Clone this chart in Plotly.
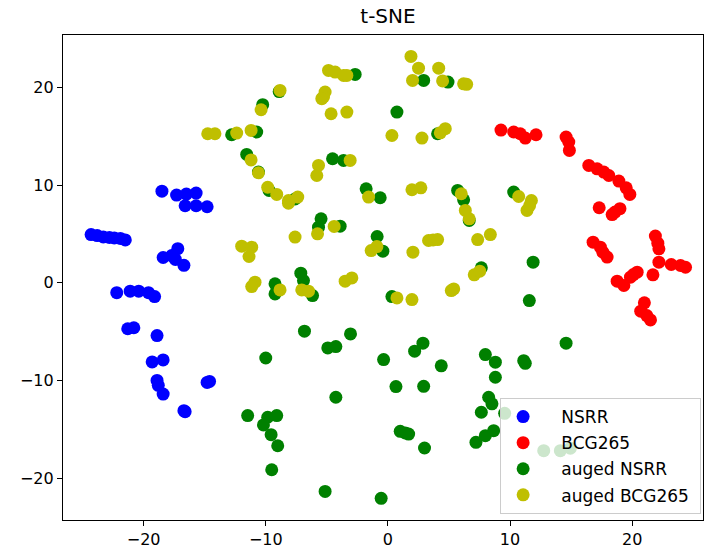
import plotly.graph_objects as go

# ---- data ----
nsrr_x = [-18.5, -17.3, -16.5, -15.7, -16.6, -15.7, -14.8,
          -24.3, -23.8, -23.3, -22.8, -22.4, -21.9, -21.5,
          -17.2, -18.4, -17.4, -16.7, -17.7,
          -22.2, -21.1, -20.4, -19.6, -19.1,
          -21.3, -20.8, -18.9,
          -19.3, -18.4, -18.9, -18.8, -18.4, -14.8, -14.6, -16.7, -16.6]
nsrr_y = [9.4, 9.0, 9.1, 9.2, 7.9, 7.9, 7.8,
          4.95, 4.85, 4.7, 4.65, 4.6, 4.55, 4.4,
          3.5, 2.6, 2.4, 1.8, 2.8,
          -1.0, -0.85, -0.85, -1.0, -1.4,
          -4.7, -4.6, -5.4,
          -8.1, -7.9, -10.0, -10.5, -11.4, -10.2, -10.1, -13.1, -13.2]

bcg_x = [9.26, 10.3, 10.84, 11.25, 12.13, 14.59, 14.81, 14.86,
         16.45, 17.13, 17.68, 18.09, 18.91, 19.51, 19.81,
         17.3, 18.36, 19.0, 18.6,
         16.8, 17.4, 17.95, 17.6,
         21.9, 22.1, 22.19, 22.19, 21.7,
         23.2, 23.96, 24.37,
         18.77, 19.32, 19.86, 20.41, 20.1,
         21.0, 20.7, 21.2, 21.5]
bcg_y = [15.66, 15.46, 15.28, 14.84, 15.18, 14.94, 14.43, 13.57,
         12.03, 11.69, 11.35, 11.0, 10.43, 9.74, 9.06,
         7.7, 7.0, 7.6, 7.25,
         4.17, 3.66, 2.64, 3.15,
         4.8, 4.07, 3.49, 2.12, 0.82,
         1.88, 1.78, 1.6,
         0.17, -0.27, 0.58, 1.1, 0.85,
         -2.05, -2.9, -3.35, -3.8]

aug_nsrr_x = [-10.25, -12.79, -10.74, -11.56, -10.6, -9.73, -8.9,
              2.93, 4.92, -2.68, 0.74, 4.07, -4.53, -3.63, -1.78, -0.63,
              5.71, 6.2, 10.3, -7.6, 6.66, -5.47, -5.68, -3.91, -0.88, -0.41,
              7.65, 0.33, -7.13, -6.91, -6.17, -9.24, -9.24,
              -6.83, -4.92, -4.26, -3.06, -0.35, 2.19, 2.87, 4.37, 7.98,
              11.89, 11.58, 14.59, 8.8, 11.12, 11.25, -10.0,
              -11.48, -9.84, -9.1, -10.19, -9.56, -9.02, -9.51,
              0.66, 2.93, -4.26, 1.01, 1.42, 1.7, 3.0, -5.14, -0.55,
              8.8, 8.25, 8.52, 7.65, 7.21, 7.98, 8.66, 9.56,
              12.76, 14.12, 14.94]
aug_nsrr_y = [18.26, 15.18, 15.46, 13.16, 11.35, 9.47, 19.6,
              20.75, 20.58, 21.36, 17.5, 15.28, 12.72, 12.55, 9.64, 8.72,
              9.47, 8.51, 9.3, 8.6, 6.4, 6.56, 5.71, 5.81, 4.75, 3.25,
              1.54, -1.4, 0.99, 0.24, -1.3, -0.1, -1.13,
              -4.95, -6.67, -6.53, -5.23, -7.86, -7.0, -6.18, -8.5, -7.35,
              2.12, -1.81, -6.18, -8.13, -7.97, -8.24, -7.7,
              -13.6, -13.77, -13.6, -14.56, -15.56, -16.69, -19.15,
              -10.63, -10.6, -11.72, -15.21, -15.38, -15.49, -16.92, -21.37, -22.08,
              -9.67, -11.72, -12.4, -13.26, -16.34, -15.66, -15.15, -13.37,
              -17.2, -17.2, -16.95]

aug_bcg_x = [-8.83, -10.38, -14.75, -14.16, -12.38, -11.2, -11.2, -10.6, -9.84, -9.1,
             1.89, 2.51, 4.16, 2.02, 4.48, 6.2, 6.45,
             -4.86, -4.32, -3.63, -3.36, -5.14, -5.27, -5.41, -4.65, -3.36,
             0.33, 2.79, 4.29, 4.7, -3.09, -5.68, -5.82,
             -8.14, -7.38, -1.58, 1.97, 2.7, 6.01, 10.71, 11.75, 11.39, 11.6,
             -11.97, -11.15, -11.37, -10.88, -11.15, -8.83, -8.14,
             6.34, 6.66, -5.76, -4.4, -7.6, -0.9, -1.37, 2.05,
             3.33, 3.7, 4.07, 7.35, 8.39, 7.07, 7.52,
             -3.5, -2.95, 5.39, 5.19, 0.74, 1.97, -7.05, -6.5]
aug_bcg_y = [19.72, 17.74, 15.28, 15.28, 15.35, 15.62, 12.6, 11.28, 9.8, 9.06,
             23.2, 22.0, 22.0, 20.75, 20.69, 20.4, 20.35,
             21.77, 21.6, 21.26, 21.26, 19.56, 19.05, 18.87, 17.33, 17.5,
             15.1, 14.84, 15.38, 15.8, 12.55, 12.03, 11.0,
             8.44, 8.79, 8.79, 9.54, 9.74, 9.13, 8.85, 8.44, 7.42, 7.9,
             3.76, 3.66, 2.7, 0.07, -0.38, -0.72, 8.17,
             7.42, 6.56, 5.03, 5.78, 4.69, 3.72, 3.31, 3.15,
             4.34, 4.4, 4.44, 4.44, 4.95, 0.82, 1.2,
             0.17, 0.51, -0.62, -0.79, -1.54, -1.71, -0.72, -0.85]

series = [
    ("NSRR", nsrr_x, nsrr_y, "#0000ff"),
    ("BCG265", bcg_x, bcg_y, "#ff0000"),
    ("auged NSRR", aug_nsrr_x, aug_nsrr_y, "#008000"),
    ("auged BCG265", aug_bcg_x, aug_bcg_y, "#bfbf00"),
]

fig = go.Figure()
for name, xs, ys, col in series:
    fig.add_trace(go.Scatter(x=xs, y=ys, mode="markers",
                             name="\u00a0\u00a0\u00a0" + name + "\u00a0", legendgroup=name,
                             marker=dict(color=col, size=13, line=dict(width=0))))

axis_common = dict(showline=True, linecolor="black", linewidth=1.2, mirror=True,
                   ticks="outside", ticklen=5, tickwidth=1.2, tickcolor="black",
                   showgrid=False, zeroline=False,
                   tickfont=dict(family="DejaVu Sans", size=16, color="black"))

fig.update_layout(
    width=704, height=552,
    margin=dict(l=63, r=1, t=35, b=32),
    paper_bgcolor="white", plot_bgcolor="white",
    title=dict(text="t-SNE", x=388/704, xanchor="center", y=1 - 16/552, yanchor="middle",
               font=dict(family="DejaVu Sans", size=20, color="black")),
    xaxis=dict(range=[-26.6, 25.8], tickvals=[-20, -10, 0, 10, 20], **axis_common),
    yaxis=dict(range=[-24.3, 25.4], tickvals=[-20, -10, 0, 10, 20], **axis_common),
    legend=dict(x=0.683, y=0.2515, xanchor="left", yanchor="top",
                bgcolor="rgba(255,255,255,0.8)", bordercolor="#cccccc", borderwidth=1,
                font=dict(family="DejaVu Sans", size=17, color="black"),
                itemwidth=34, tracegroupgap=1),
    showlegend=True,
)

fig.write_html("out.html", config={"displayModeBar": False},
               post_script="document.body.style.margin='0';document.body.style.overflow='hidden';")
